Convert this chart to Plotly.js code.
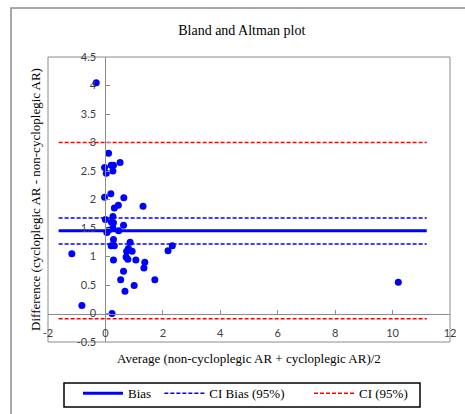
<!DOCTYPE html>
<html>
<head>
<meta charset="utf-8">
<script src="https://cdn.plot.ly/plotly-3.0.1.min.js"></script>
<style>html,body{margin:0;padding:0;background:#fff;}#chart{width:465px;height:414px;}</style>
</head>
<body>
<div id="chart"></div>
<script>
// Data: average (x) and difference (y)
const avgValues = [-0.32, 0.11, -0.03, 0.03, 0.20, 0.28, 0.26, 0.51,
  -0.03, 0.19, 0.64, 0.31, 0.45, 1.31, 0.00, 0.26, 0.21, 0.28, 0.63,
  0.05, 0.11, 0.26, 0.46, 0.28, 0.20, 0.31, 0.86, 0.80, 0.74, 0.93,
  0.72, 0.78, 0.28, 1.06, 1.37, 1.34, 0.63, 0.53, 1.72, 1.00, 0.68,
  -1.17, 2.18, 2.33, -0.82, 0.23, 10.20];
const diffValues = [4.05, 2.81, 2.56, 2.46, 2.60, 2.60, 2.50, 2.65,
  2.04, 2.10, 2.03, 1.85, 1.90, 1.88, 1.65, 1.70, 1.60, 1.59, 1.55,
  1.42, 1.46, 1.50, 1.45, 1.30, 1.19, 1.19, 1.25, 1.14, 1.09, 1.09,
  0.99, 0.95, 0.94, 0.94, 0.90, 0.80, 0.74, 0.59, 0.59, 0.49, 0.39,
  1.05, 1.10, 1.19, 0.14, 0.00, 0.55];
const lineX = [-1.63, 11.19];
const biasValue = 1.45;
const ciBiasUpper = 1.675;
const ciBiasLower = 1.22;
const ciUpper = 3.0;
const ciLower = -0.09;
const xTicks = [-2, 0, 2, 4, 6, 8, 10, 12];
const yTicks = [-0.5, 0, 0.5, 1, 1.5, 2, 2.5, 3, 3.5, 4, 4.5];
const seriesNames = ['Bias', 'CI Bias (95%)', 'CI (95%)'];

const serif = '"Liberation Serif", "Times New Roman", serif';
const sans = 'Lato, "Liberation Sans", sans-serif';
const nb = n => '\u00a0'.repeat(n);

const traces = [
  {x: avgValues, y: diffValues, type: 'scatter', mode: 'markers',
   marker: {color: '#0000FF', size: 7}, showlegend: false, hoverinfo: 'x+y'},
  {x: lineX, y: [biasValue, biasValue], type: 'scatter', mode: 'lines', name: seriesNames[0] + nb(1),
   line: {color: '#0000FF', width: 3}},
  {x: lineX, y: [ciBiasUpper, ciBiasUpper], type: 'scatter', mode: 'lines', name: seriesNames[1] + nb(6),
   line: {color: '#0000FF', width: 1.5, dash: '4px,2px'}, legendgroup: 'cib'},
  {x: lineX, y: [ciUpper, ciUpper], type: 'scatter', mode: 'lines', name: seriesNames[2],
   line: {color: '#FF0000', width: 1.5, dash: '4px,2px'}, legendgroup: 'ci'},
  {x: lineX, y: [ciBiasLower, ciBiasLower], type: 'scatter', mode: 'lines', name: seriesNames[1],
   line: {color: '#0000FF', width: 1.5, dash: '4px,2px'}, legendgroup: 'cib', showlegend: false},
  {x: lineX, y: [ciLower, ciLower], type: 'scatter', mode: 'lines', name: seriesNames[2],
   line: {color: '#FF0000', width: 1.5, dash: '4px,2px'}, legendgroup: 'ci', showlegend: false}
];

const layout = {
  width: 465, height: 414,
  margin: {l: 48, r: 15, t: 57, b: 72, autoexpand: false},
  paper_bgcolor: '#ffffff', plot_bgcolor: '#ffffff',
  showlegend: true,
  title: {text: 'Bland and Altman plot', font: {family: serif, size: 14, color: '#000'},
          x: 0.52, xanchor: 'center', y: 0.928, yanchor: 'middle'},
  xaxis: {range: [-2, 12], tickvals: xTicks, ticktext: xTicks.map(String),
          anchor: 'free', position: 0.1, showline: true, linecolor: '#8c8c8c', linewidth: 1,
          ticks: 'inside', ticklen: 4, tickcolor: '#8c8c8c', showgrid: false, zeroline: false,
          automargin: false, ticklabelstandoff: 9,
          tickfont: {family: sans, size: 11, color: '#404040'},
          title: {text: 'Average (non-cycloplegic AR + cycloplegic AR)/2',
                  font: {family: serif, size: 13, color: '#000'}, standoff: 16}},
  yaxis: {range: [-0.5, 4.5], tickvals: yTicks, ticktext: yTicks.map(String),
          anchor: 'free', position: 2/14, showline: true, linecolor: '#8c8c8c', linewidth: 1,
          ticks: 'inside', ticklen: 4, tickcolor: '#8c8c8c', showgrid: false, zeroline: false,
          automargin: false, ticklabelstandoff: 7,
          tickfont: {family: sans, size: 11, color: '#404040'},
          title: {text: 'Difference (cycloplegic AR - non-cycloplegic AR)',
                  font: {family: serif, size: 13, color: '#000'}, standoff: 32}},
  legend: {orientation: 'h', x: 0.0746, xanchor: 'left', yref: 'container', y: 0.086, yanchor: 'top',
           borderwidth: 0, bgcolor: 'rgba(0,0,0,0)',
           font: {family: serif, size: 13, color: '#000'}, itemwidth: 40, tracegroupgap: 0},
  shapes: [
    {type: 'rect', xref: 'paper', yref: 'paper', x0: 0, x1: 1, y0: 0, y1: 1,
     line: {color: '#8c8c8c', width: 1}, layer: 'below'},
    {type: 'rect', xref: 'paper', yref: 'paper', x0: -0.092, x1: 1.1, y0: -0.3, y1: 1.172,
     line: {color: '#8c8c8c', width: 1.5}, layer: 'below'},
    {type: 'rect', xref: 'paper', yref: 'paper', x0: 0.0398, x1: 0.9254, y0: -0.228, y1: -0.1439,
     line: {color: '#000000', width: 1.5}, layer: 'below'}
  ]
};

Plotly.newPlot('chart', traces, layout, {displayModeBar: false, staticPlot: true});
</script>
</body>
</html>
